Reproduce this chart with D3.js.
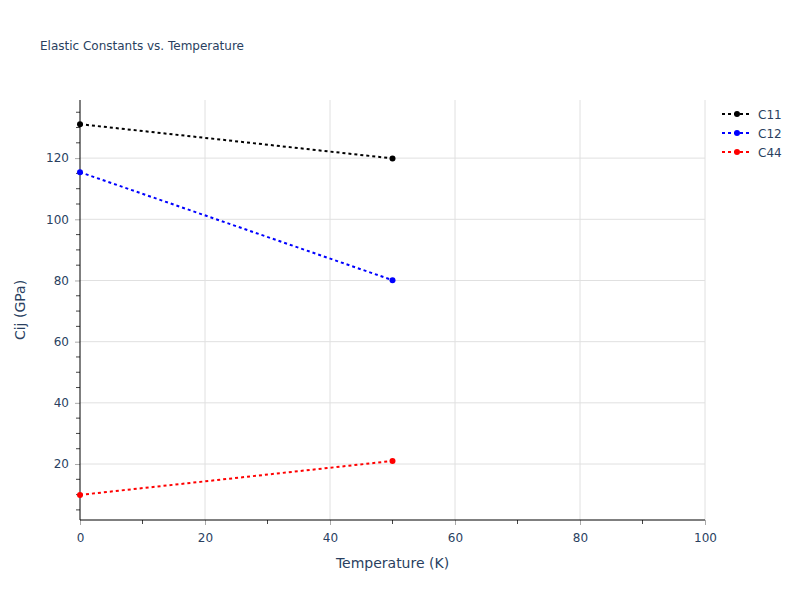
<!DOCTYPE html>
<html>
<head>
<meta charset="utf-8">
<script src="https://cdn.jsdelivr.net/npm/d3@7"></script>
<style>
  body { margin: 0; background: #fff; }
  svg text { font-family: "DejaVu Sans", Verdana, sans-serif; fill: #2a3f5f; }
</style>
</head>
<body>
<div id="chart"></div>
<script>
const _WIDTH = 800
const _HEIGHT = 600
const _MARGIN = { top: 100, left: 80, bottom: 80, right: 95 }

// Data
// ===================================
const temperatures = [0, 50]
const seriesNames = ["C11", "C12", "C44"]
const seriesColors = ["black", "blue", "red"]
const c11 = [131.1, 119.9]
const c12 = [115.4, 80.1]
const c44 = [9.9, 21.0]
const seriesValues = [c11, c12, c44]
const xTicks = [0, 20, 40, 60, 80, 100]
const yTicks = [20, 40, 60, 80, 100, 120]

const innerW = _WIDTH - _MARGIN.left - _MARGIN.right
const innerH = _HEIGHT - _MARGIN.top - _MARGIN.bottom

const svg = d3.select("#chart")
    .append("svg")
    .attr("width", _WIDTH)
    .attr("height", _HEIGHT)

const xScale = d3.scaleLinear().domain([0, 100]).range([0, innerW])
const yScale = d3.scaleLinear().domain([1.7, 139]).range([innerH, 0])

const g = svg.append("g")
    .attr("transform", `translate(${_MARGIN.left},${_MARGIN.top})`)

// Grid
// ===================================
g.append("g")
    .selectAll("line")
    .data(xTicks.filter(d => d > 0))
    .join("line")
    .attr("x1", d => xScale(d)).attr("x2", d => xScale(d))
    .attr("y1", 0).attr("y2", innerH)
    .attr("stroke", "#e0e0e0").attr("stroke-width", 1)

g.append("g")
    .selectAll("line")
    .data(yTicks)
    .join("line")
    .attr("x1", 0).attr("x2", innerW)
    .attr("y1", d => yScale(d)).attr("y2", d => yScale(d))
    .attr("stroke", "#e0e0e0").attr("stroke-width", 1)

// Minor ticks
// ===================================
const xMinor = d3.range(10, 100, 20)
g.append("g")
    .selectAll("line")
    .data(xMinor)
    .join("line")
    .attr("x1", d => xScale(d)).attr("x2", d => xScale(d))
    .attr("y1", innerH).attr("y2", innerH + 4)
    .attr("stroke", "#444").attr("stroke-width", 1)

const yMinor = d3.range(5, 139, 5).filter(d => d % 20 !== 0)
g.append("g")
    .selectAll("line")
    .data(yMinor)
    .join("line")
    .attr("x1", -4).attr("x2", 0)
    .attr("y1", d => yScale(d)).attr("y2", d => yScale(d))
    .attr("stroke", "#444").attr("stroke-width", 1)

// Axes
// ===================================
const xAxis = g.append("g")
    .attr("transform", `translate(0,${innerH})`)
    .call(d3.axisBottom(xScale).tickValues(xTicks).tickSize(5).tickPadding(8))
xAxis.select(".domain").remove()
xAxis.selectAll(".tick line").attr("stroke", "#aaa")
xAxis.selectAll("text").attr("font-size", 12).attr("fill", "#2a3f5f")

const yAxis = g.append("g")
    .call(d3.axisLeft(yScale).tickValues(yTicks).tickSize(5).tickPadding(6))
yAxis.select(".domain").remove()
yAxis.selectAll(".tick line").attr("stroke", "#aaa")
yAxis.selectAll("text").attr("font-size", 12).attr("fill", "#2a3f5f")

g.append("line")
    .attr("x1", 0).attr("x2", innerW)
    .attr("y1", innerH).attr("y2", innerH)
    .attr("stroke", "black").attr("stroke-width", 1)
g.append("line")
    .attr("x1", 0).attr("x2", 0)
    .attr("y1", 0).attr("y2", innerH)
    .attr("stroke", "black").attr("stroke-width", 1)

// Series
// ===================================
const line = d3.line()
    .x((d, i) => xScale(temperatures[i]))
    .y(d => yScale(d))

seriesValues.forEach((values, s) => {
    g.append("path")
        .datum(values)
        .attr("fill", "none")
        .attr("stroke", seriesColors[s])
        .attr("stroke-width", 2)
        .attr("stroke-dasharray", "3,3")
        .attr("d", line)
    g.append("g")
        .selectAll("circle")
        .data(values)
        .join("circle")
        .attr("cx", (d, i) => xScale(temperatures[i]))
        .attr("cy", d => yScale(d))
        .attr("r", 3)
        .attr("fill", seriesColors[s])
})

// Legend
// ===================================
const legend = svg.append("g").attr("transform", "translate(722,114)")
seriesNames.forEach((name, s) => {
    const row = legend.append("g").attr("transform", `translate(0,${s * 19})`)
    row.append("line")
        .attr("x1", 0).attr("x2", 30).attr("y1", 0).attr("y2", 0)
        .attr("stroke", seriesColors[s]).attr("stroke-width", 2)
        .attr("stroke-dasharray", "3,3")
    row.append("circle").attr("cx", 15).attr("cy", 0).attr("r", 3)
        .attr("fill", seriesColors[s])
    row.append("text").attr("x", 36).attr("y", 4.5)
        .attr("font-size", 12).text(name)
})

// Titles
// ===================================
svg.append("text")
    .attr("x", 40).attr("y", 50)
    .attr("font-size", 12)
    .text("Elastic Constants vs. Temperature")

svg.append("text")
    .attr("x", _MARGIN.left + innerW / 2).attr("y", 568)
    .attr("text-anchor", "middle")
    .attr("font-size", 14)
    .text("Temperature (K)")

svg.append("text")
    .attr("transform", `translate(25,${_MARGIN.top + innerH / 2}) rotate(-90)`)
    .attr("text-anchor", "middle")
    .attr("font-size", 14)
    .text("Cij (GPa)")
</script>
</body>
</html>
